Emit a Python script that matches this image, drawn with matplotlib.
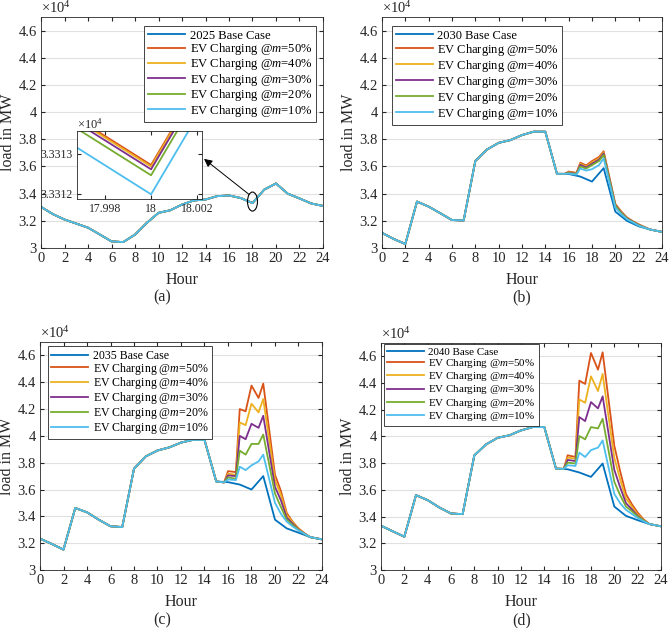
import matplotlib
matplotlib.use('Agg')
import matplotlib.pyplot as plt
from matplotlib.patches import Ellipse
from matplotlib.ticker import FuncFormatter

plt.rcParams['font.family'] = 'Liberation Serif'
plt.rcParams['mathtext.fontset'] = 'custom'
plt.rcParams['mathtext.rm'] = 'Liberation Serif'
plt.rcParams['mathtext.it'] = 'Liberation Serif:italic'

#%% data (MW)
hours = list(range(25))
# EV time points (h) used in 2030/2035/2040 between 15:40 and 23:00
t_ev = [15.67, 16, 16.67, 17, 17.5, 18, 18.6, 19, 20, 20.5, 21, 21.5, 22, 22.5, 23]
m_levels = [50, 40, 30, 20, 10]

base_2025 = [33030, 32500, 32100, 31800, 31500, 31000, 30490, 30440, 30990, 31850, 32590, 32780,
             33200, 33500, 33570, 33820, 33870, 33680, 33305, 34300, 34750, 34000, 33650, 33280, 33100]
# 2025: EV curves only differ at 18h (see inset)
ev18_2025 = [33312.72, 33312.68, 33312.61, 33312.46, 33311.98]

base_2030 = [31120, 30670, 30300, 33420, 33050, 32560, 32060, 32030, 36400, 37250, 37740, 37940,
             38310, 38560, 38560, 35460, 35450, 35260, 34890, 35880, 32680, 32000, 31600, 31360, 31190]
ev_2030_m50 = [35460, 35630, 35530, 36280, 36080, 36400, 36700, 37120, 33250, 32700, 32250, 31980, 31750, 31550, 31360]
ev_2030_m40 = [35460, 35580, 35500, 36200, 36000, 36300, 36600, 37030, 33200, 32660, 32220, 31960, 31720, 31530, 31360]
ev_2030_m30 = [35460, 35550, 35470, 36120, 35930, 36200, 36500, 36950, 33150, 32620, 32190, 31940, 31700, 31520, 31360]
ev_2030_m20 = [35460, 35520, 35440, 36000, 35850, 36100, 36400, 36850, 33100, 32580, 32160, 31920, 31680, 31510, 31360]
ev_2030_m10 = [35460, 35480, 35400, 35850, 35700, 35800, 36100, 36600, 32980, 32500, 32120, 31890, 31650, 31500, 31360]

base_2035 = [32340, 31940, 31520, 34620, 34300, 33750, 33260, 33200, 37550, 38470, 38910, 39140,
             39500, 39700, 39700, 36600, 36550, 36370, 36000, 37000, 33750, 33100, 32780, 32450, 32280]
ev_2035_m50 = [36530, 37370, 37300, 42000, 41830, 43750, 42830, 43900, 37100, 35900, 34250, 33600, 33100, 32750, 32450]
ev_2035_m40 = [36530, 37180, 37100, 41000, 40800, 42400, 41750, 42750, 36700, 35600, 34100, 33550, 33050, 32720, 32450]
ev_2035_m30 = [36530, 37050, 37000, 40000, 39750, 40900, 40600, 41500, 36200, 35200, 33900, 33450, 33000, 32700, 32450]
ev_2035_m20 = [36530, 36900, 36800, 38900, 38600, 39400, 39400, 40100, 35700, 34700, 33750, 33350, 32980, 32680, 32450]
ev_2035_m10 = [36530, 36750, 36700, 37700, 37450, 37800, 38100, 38600, 35000, 34200, 33600, 33250, 32950, 32700, 32450]

base_2040 = [33310, 32900, 32490, 35600, 35230, 34680, 34230, 34180, 38580, 39400, 39900, 40080,
             40450, 40700, 40700, 37590, 37540, 37300, 36970, 37970, 34750, 34050, 33730, 33440, 33270]
ev_2040_m50 = [37570, 38590, 38460, 44180, 43930, 46250, 45000, 46300, 39300, 37400, 35680, 34930, 34300, 33800, 33440]
ev_2040_m40 = [37570, 38410, 38340, 42770, 42520, 44500, 43400, 44680, 38400, 36800, 35350, 34750, 34150, 33770, 33440]
ev_2040_m30 = [37570, 38240, 38160, 41450, 41150, 42570, 42100, 43000, 37500, 36200, 35000, 34550, 34050, 33720, 33440]
ev_2040_m20 = [37570, 38040, 37970, 40030, 39780, 40700, 40600, 41320, 36600, 35600, 34750, 34400, 34000, 33700, 33440]
ev_2040_m10 = [37570, 37840, 37790, 38790, 38460, 38980, 39160, 39700, 35700, 35000, 34500, 34200, 33900, 33650, 33440]

colors = ['#0072BD', '#D95319', '#EDB120', '#7E2F8E', '#77AC30', '#4DBEEE']
axcol = '#262626'
fmt = FuncFormatter(lambda v, p: f'{v/1e4:g}')


def style(ax):
    ax.set_xlim(0, 24)
    ax.set_ylim(30000, 47000)
    ax.set_xticks(range(0, 25, 2))
    ax.set_yticks(range(30000, 46001, 2000))
    ax.yaxis.set_major_formatter(fmt)
    ax.grid(axis='y', color='#e0e0e0', lw=0.8)
    ax.set_axisbelow(True)
    ax.tick_params(direction='in', top=True, right=True, labelsize=10.5, length=3,
                   color=axcol, labelcolor=axcol, pad=3)
    for s in ax.spines.values():
        s.set_color(axcol)
        s.set_linewidth(0.6)
    ax.set_xlabel('Hour', fontsize=11.5, color=axcol, labelpad=5)
    ax.set_ylabel('load in MW', fontsize=11.5, color=axcol, labelpad=2)
    ax.text(0, 1.004, r'$\times$10$^4$', transform=ax.transAxes, ha='left', va='bottom',
            fontsize=10.5, color=axcol)


def panel(ax, year, base, ev, loc, anchor, fs, sp):
    lines = [ax.plot(hours, base, color=colors[0], lw=1.3)[0]]
    for i, y in enumerate(ev):
        if len(y) == 25:
            xx, yy = hours, y
        else:
            xx = hours[:16] + t_ev + [24]
            yy = base[:16] + y + [base[24]]
        lines.append(ax.plot(xx, yy, color=colors[i + 1], lw=1.3)[0])
    labels = [f'{year} Base Case'] + [f'EV Charging @$m$={m}%' for m in m_levels]
    leg = ax.legend(lines, labels, loc=loc, bbox_to_anchor=anchor, borderaxespad=0,
                    fontsize=fs, fancybox=False, framealpha=1, edgecolor=axcol,
                    handlelength=37 / (fs * 100 / 72), handletextpad=0.35,
                    labelspacing=sp, borderpad=0.3)
    leg.get_frame().set_linewidth(0.6)
    style(ax)


fig = plt.figure(figsize=(6.69, 6.28), dpi=100)
ax_a = fig.add_axes([0.0613, 0.605, 0.4215, 0.368])
ax_b = fig.add_axes([0.571, 0.605, 0.4185, 0.368])
ax_c = fig.add_axes([0.0598, 0.0924, 0.4215, 0.363])
ax_d = fig.add_axes([0.5695, 0.0924, 0.4185, 0.3615])

# 2025 EV curves
ev_2025 = []
for v in ev18_2025:
    y = list(base_2025)
    y[18] = v
    ev_2025.append(y)

panel(ax_a, 2025, base_2025, ev_2025, 'upper right', (0.975, 0.961), 9.1, -0.05)
panel(ax_b, 2030, base_2030, [ev_2030_m50, ev_2030_m40, ev_2030_m30, ev_2030_m20, ev_2030_m10],
      'upper left', (0.036, 0.961), 9.0, 0.0)
panel(ax_c, 2035, base_2035, [ev_2035_m50, ev_2035_m40, ev_2035_m30, ev_2035_m20, ev_2035_m10],
      'upper left', (0.028, 0.982), 8.6, -0.1)
panel(ax_d, 2040, base_2040, [ev_2040_m50, ev_2040_m40, ev_2040_m30, ev_2040_m20, ev_2040_m10],
      'upper left', (0.011, 0.996), 7.9, 0.02)

#%% inset in (a)
ax_in = fig.add_axes([0.115, 0.683, 0.187, 0.108])
ax_in.plot(hours, base_2025, color=colors[0], lw=1.3)
for i, y in enumerate(ev_2025):
    ax_in.plot(hours, y, color=colors[i + 1], lw=1.3)
ax_in.set_xlim(17.9968, 18.0022)
ax_in.set_ylim(33311.86, 33313.57)
ax_in.set_xticks([17.998, 18, 18.002])
ax_in.set_xticklabels(['17.998', '18', '18.002'])
ax_in.set_yticks([33312, 33313])
ax_in.set_yticklabels(['3.3312', '3.3313'])
ax_in.tick_params(direction='in', top=True, right=True, labelsize=8.5, length=3,
                  color=axcol, labelcolor=axcol, pad=3)
for s in ax_in.spines.values():
    s.set_color(axcol)
    s.set_linewidth(0.6)
ax_in.text(0, 1.0, r'$\times$10$^4$', transform=ax_in.transAxes, ha='left', va='bottom',
           fontsize=9, color=axcol)

ax_a.add_patch(Ellipse((18, 33420), 0.85, 1400, fill=False, ec='k', lw=0.8, zorder=5))
ax_a.annotate('', xy=(0.305, 0.747), xycoords='figure fraction', xytext=(17.7, 33950),
              textcoords='data', arrowprops=dict(arrowstyle='-|>', color='k', lw=0.7,
                                                 mutation_scale=12, shrinkA=0, shrinkB=0))

# captions
fig.text(0.2425, 1 - 297 / 628, '(a)', ha='center', va='center', fontsize=11.5, color=axcol)
fig.text(0.78, 1 - 297 / 628, '(b)', ha='center', va='center', fontsize=11.5, color=axcol)
fig.text(0.2425, 1 - 620 / 628, '(c)', ha='center', va='center', fontsize=11.5, color=axcol)
fig.text(0.78, 1 - 620 / 628, '(d)', ha='center', va='center', fontsize=11.5, color=axcol)

fig.savefig('out.png', dpi=100)
